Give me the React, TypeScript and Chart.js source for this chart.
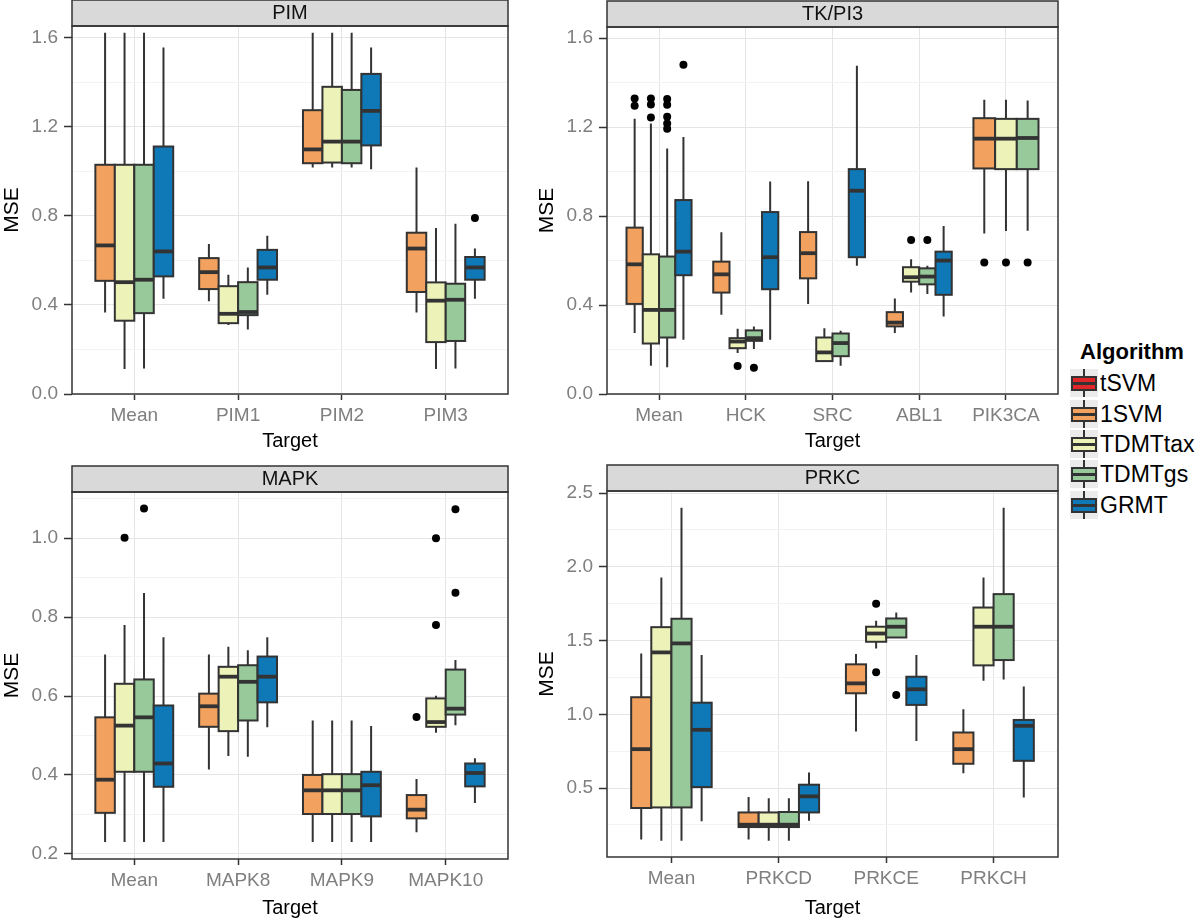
import React, { useEffect, useRef } from "react";
import { Chart, registerables } from "chart.js";

Chart.register(...registerables);

const FONT = '"Liberation Sans", Arial, Helvetica, sans-serif';

const ALGORITHMS = ["tSVM", "1SVM", "TDMTtax", "TDMTgs", "GRMT"];
const COLORS = ["#E0262B", "#F2A25E", "#EDF2B9", "#97C99A", "#0F78B7"];

// Box statistics per target: [lower whisker, Q1, median, Q3, upper whisker]; null = no box
// ---------- PIM ----------
const PIM_TARGETS = ["Mean", "PIM1", "PIM2", "PIM3"];
const PIM_TSVM = [null, null, null, null];
const PIM_1SVM = [[0.366, 0.508, 0.667, 1.029, 1.622], [0.416, 0.471, 0.547, 0.61, 0.673], [1.017, 1.036, 1.098, 1.274, 1.622], [0.366, 0.458, 0.653, 0.724, 1.017]];
const PIM_TDMTTAX = [[0.112, 0.329, 0.502, 1.029, 1.622], [0.31, 0.318, 0.36, 0.484, 0.535], [1.017, 1.039, 1.133, 1.379, 1.622], [0.112, 0.233, 0.419, 0.501, 0.745]];
const PIM_TDMTGS = [[0.115, 0.363, 0.513, 1.029, 1.622], [0.289, 0.354, 0.368, 0.502, 0.568], [1.017, 1.036, 1.133, 1.365, 1.622], [0.115, 0.238, 0.423, 0.495, 0.764]];
const PIM_GRMT = [[0.428, 0.528, 0.64, 1.111, 1.555], [0.446, 0.513, 0.568, 0.647, 0.71], [1.009, 1.116, 1.271, 1.437, 1.555], [0.428, 0.513, 0.568, 0.615, 0.653]];
const PIM_OUT_TSVM = [[], [], [], []];
const PIM_OUT_1SVM = [[], [], [], []];
const PIM_OUT_TDMTTAX = [[], [], [], []];
const PIM_OUT_TDMTGS = [[], [], [], []];
const PIM_OUT_GRMT = [[], [], [], [0.79]];
const PIM_Y_MAJOR = [0, 0.4, 0.8, 1.2, 1.6];
const PIM_Y_MINOR = [0.2, 0.6, 1.0, 1.4];

// ---------- TK/PI3 ----------
const TK_TARGETS = ["Mean", "HCK", "SRC", "ABL1", "PIK3CA"];
const TK_TSVM = [null, null, null, null, null];
const TK_1SVM = [[0.274, 0.405, 0.583, 0.748, 1.238], [0.356, 0.456, 0.538, 0.595, 0.727], [0.405, 0.52, 0.633, 0.728, 0.957], [0.274, 0.304, 0.321, 0.368, 0.429], [0.722, 1.014, 1.148, 1.24, 1.323]];
const TK_TDMTTAX = [[0.127, 0.227, 0.378, 0.628, 1.216], [0.184, 0.206, 0.236, 0.251, 0.293], [0.145, 0.148, 0.187, 0.254, 0.296], [0.456, 0.505, 0.525, 0.57, 0.606], [0.733, 1.011, 1.148, 1.237, 1.323]];
const TK_TDMTGS = [[0.12, 0.254, 0.378, 0.618, 1.104], [0.202, 0.239, 0.251, 0.286, 0.304], [0.127, 0.17, 0.229, 0.272, 0.284], [0.45, 0.493, 0.528, 0.565, 0.577], [0.734, 1.011, 1.151, 1.237, 1.32]];
const TK_GRMT = [[0.244, 0.534, 0.64, 0.872, 1.156], [0.244, 0.471, 0.615, 0.818, 0.955], [0.577, 0.615, 0.914, 1.011, 1.476], [0.348, 0.446, 0.6, 0.64, 0.755], null];
const TK_OUT_TSVM = [[], [], [], [], []];
const TK_OUT_1SVM = [[1.328, 1.296], [], [], [], [0.591]];
const TK_OUT_TDMTTAX = [[1.328, 1.302, 1.243], [0.126], [], [0.692], [0.591]];
const TK_OUT_TDMTGS = [[1.326, 1.301, 1.246, 1.216, 1.193], [0.118], [], [0.692], [0.591]];
const TK_OUT_GRMT = [[1.48], [], [], [], []];
const TK_Y_MAJOR = [0, 0.4, 0.8, 1.2, 1.6];
const TK_Y_MINOR = [0.2, 0.6, 1.0, 1.4];

// ---------- MAPK ----------
const MAPK_TARGETS = ["Mean", "MAPK8", "MAPK9", "MAPK10"];
const MAPK_TSVM = [null, null, null, null];
const MAPK_1SVM = [[0.23, 0.304, 0.388, 0.546, 0.705], [0.414, 0.522, 0.574, 0.606, 0.705], [0.23, 0.301, 0.361, 0.4, 0.538], [0.255, 0.29, 0.312, 0.349, 0.39]];
const MAPK_TDMTTAX = [[0.23, 0.408, 0.525, 0.631, 0.78], [0.448, 0.511, 0.649, 0.674, 0.725], [0.23, 0.301, 0.361, 0.402, 0.538], [0.507, 0.522, 0.534, 0.594, 0.601]];
const MAPK_TDMTGS = [[0.23, 0.408, 0.546, 0.642, 0.861], [0.446, 0.538, 0.636, 0.678, 0.716], [0.23, 0.301, 0.361, 0.402, 0.538], [0.526, 0.553, 0.568, 0.667, 0.691]];
const MAPK_GRMT = [[0.23, 0.37, 0.429, 0.576, 0.749], [0.521, 0.584, 0.649, 0.7, 0.749], [0.23, 0.295, 0.374, 0.408, 0.524], [0.329, 0.371, 0.405, 0.429, 0.442]];
const MAPK_OUT_TSVM = [[], [], [], []];
const MAPK_OUT_1SVM = [[], [], [], [0.547]];
const MAPK_OUT_TDMTTAX = [[1.001], [], [], [1.0, 0.78]];
const MAPK_OUT_TDMTGS = [[1.075], [], [], [1.073, 0.862]];
const MAPK_OUT_GRMT = [[], [], [], []];
const MAPK_Y_MAJOR = [0.2, 0.4, 0.6, 0.8, 1.0];
const MAPK_Y_MINOR = [0.3, 0.5, 0.7, 0.9, 1.1];

// ---------- PRKC ----------
const PRKC_TARGETS = ["Mean", "PRKCD", "PRKCE", "PRKCH"];
const PRKC_TSVM = [null, null, null, null];
const PRKC_1SVM = [[0.151, 0.365, 0.764, 1.116, 1.413], [0.151, 0.236, 0.252, 0.335, 0.439], [0.883, 1.143, 1.21, 1.339, 1.409], [0.601, 0.665, 0.764, 0.877, 1.034]];
const PRKC_TDMTTAX = [[0.144, 0.369, 1.42, 1.591, 1.927], [0.144, 0.236, 0.252, 0.335, 0.432], [1.447, 1.492, 1.548, 1.594, 1.634], [1.228, 1.332, 1.594, 1.724, 1.927]];
const PRKC_TDMTGS = [[0.144, 0.369, 1.481, 1.648, 2.401], [0.144, 0.236, 0.252, 0.338, 0.432], [1.521, 1.521, 1.594, 1.65, 1.69], [1.237, 1.368, 1.594, 1.815, 2.401]];
const PRKC_GRMT = [[0.275, 0.507, 0.895, 1.079, 1.402], [0.279, 0.335, 0.444, 0.523, 0.606], [0.82, 1.064, 1.17, 1.255, 1.402], [0.437, 0.685, 0.922, 0.962, 1.188]];
const PRKC_OUT_TSVM = [[], [], [], []];
const PRKC_OUT_1SVM = [[], [], [], []];
const PRKC_OUT_TDMTTAX = [[], [], [1.749, 1.285], []];
const PRKC_OUT_TDMTGS = [[], [], [1.131], []];
const PRKC_OUT_GRMT = [[], [], [], []];
const PRKC_Y_MAJOR = [0.5, 1.0, 1.5, 2.0, 2.5];
const PRKC_Y_MINOR = [0.25, 0.75, 1.25, 1.75, 2.25];

type Stats = (number[] | null)[];

interface PanelSpec {
  title: string;
  targets: string[];
  stats: Stats[];
  outliers: number[][][];
  yMajor: number[];
  yMinor: number[];
  yMin: number;
  yMax: number;
  left: number;
  top: number;
  w: number;
  h: number;
  padTop: number;
  padRight: number;
  xH: number;
  xTitlePad: number;
}

const PANELS: PanelSpec[] = [
  {
    title: "PIM", targets: PIM_TARGETS,
    stats: [PIM_TSVM, PIM_1SVM, PIM_TDMTTAX, PIM_TDMTGS, PIM_GRMT],
    outliers: [PIM_OUT_TSVM, PIM_OUT_1SVM, PIM_OUT_TDMTTAX, PIM_OUT_TDMTGS, PIM_OUT_GRMT],
    yMajor: PIM_Y_MAJOR, yMinor: PIM_Y_MINOR, yMin: 0, yMax: 1.652,
    left: 0, top: 0, w: 530, h: 460, padTop: 0, padRight: 22, xH: 66, xTitlePad: 7,
  },
  {
    title: "TK/PI3", targets: TK_TARGETS,
    stats: [TK_TSVM, TK_1SVM, TK_TDMTTAX, TK_TDMTGS, TK_GRMT],
    outliers: [TK_OUT_TSVM, TK_OUT_1SVM, TK_OUT_TDMTTAX, TK_OUT_TDMTGS, TK_OUT_GRMT],
    yMajor: TK_Y_MAJOR, yMinor: TK_Y_MINOR, yMin: 0, yMax: 1.65,
    left: 535, top: 0, w: 535, h: 460, padTop: 1, padRight: 12, xH: 66, xTitlePad: 7,
  },
  {
    title: "MAPK", targets: MAPK_TARGETS,
    stats: [MAPK_TSVM, MAPK_1SVM, MAPK_TDMTTAX, MAPK_TDMTGS, MAPK_GRMT],
    outliers: [MAPK_OUT_TSVM, MAPK_OUT_1SVM, MAPK_OUT_TDMTTAX, MAPK_OUT_TDMTGS, MAPK_OUT_GRMT],
    yMajor: MAPK_Y_MAJOR, yMinor: MAPK_Y_MINOR, yMin: 0.187, yMax: 1.117,
    left: 0, top: 460, w: 530, h: 461, padTop: 6, padRight: 22, xH: 62, xTitlePad: 1,
  },
  {
    title: "PRKC", targets: PRKC_TARGETS,
    stats: [PRKC_TSVM, PRKC_1SVM, PRKC_TDMTTAX, PRKC_TDMTGS, PRKC_GRMT],
    outliers: [PRKC_OUT_TSVM, PRKC_OUT_1SVM, PRKC_OUT_TDMTTAX, PRKC_OUT_TDMTGS, PRKC_OUT_GRMT],
    yMajor: PRKC_Y_MAJOR, yMinor: PRKC_Y_MINOR, yMin: 0.033, yMax: 2.514,
    left: 535, top: 460, w: 535, h: 461, padTop: 5, padRight: 12, xH: 64, xTitlePad: 1,
  },
];

const DODGE = 0.75;

function dodge(stats: Stats[], i: number, a: number) {
  const present: number[] = [];
  stats.forEach((s, k) => { if (s[i]) present.push(k); });
  const n = Math.max(present.length, 1);
  const j = present.indexOf(a);
  const w = DODGE / n;
  return { xc: i + (j - (n - 1) / 2) * w, w };
}

function isMajor(list: number[], v: number) {
  return list.some((m) => Math.abs(m - v) < 1e-6);
}

function Panel({ spec }: { spec: PanelSpec }) {
  const ref = useRef<HTMLCanvasElement>(null);
  useEffect(() => {
    const n = spec.targets.length;
    const datasets = ALGORITHMS.map((name, a) => ({
      label: name,
      data: spec.outliers[a].flatMap((vals, i) =>
        vals.map((v) => ({ x: dodge(spec.stats, i, a).xc, y: v }))
      ),
      pointRadius: 4,
      pointBackgroundColor: "#000000",
      pointBorderWidth: 0,
      showLine: false,
    }));

    const boxPlugin = {
      id: "boxes",
      beforeDraw(chart: any) {
        const { ctx, chartArea } = chart;
        const t = chart.titleBlock;
        ctx.save();
        ctx.fillStyle = "#D9D9D9";
        ctx.fillRect(chartArea.left, t.top, chartArea.right - chartArea.left, chartArea.top - t.top);
        ctx.restore();
      },
      beforeDatasetsDraw(chart: any) {
        const { ctx } = chart;
        const xs = chart.scales.x;
        const ys = chart.scales.y;
        ctx.save();
        for (let i = 0; i < n; i++) {
          spec.stats.forEach((s, a) => {
            const st = s[i];
            if (!st) return;
            const { xc, w } = dodge(spec.stats, i, a);
            const px = xs.getPixelForValue(xc);
            const x0 = xs.getPixelForValue(xc - w / 2);
            const x1 = xs.getPixelForValue(xc + w / 2);
            const [lo, q1, med, q3, hi] = st.map((v) => ys.getPixelForValue(v));
            ctx.strokeStyle = "#333333";
            ctx.lineWidth = 2;
            ctx.beginPath();
            ctx.moveTo(px, hi);
            ctx.lineTo(px, q3);
            ctx.moveTo(px, q1);
            ctx.lineTo(px, lo);
            ctx.stroke();
            ctx.fillStyle = COLORS[a];
            ctx.fillRect(x0, q3, x1 - x0, q1 - q3);
            ctx.strokeRect(x0, q3, x1 - x0, q1 - q3);
            ctx.lineWidth = 3.8;
            ctx.beginPath();
            ctx.moveTo(x0, med);
            ctx.lineTo(x1, med);
            ctx.stroke();
          });
        }
        ctx.restore();
      },
      afterDraw(chart: any) {
        const { ctx, chartArea } = chart;
        const t = chart.titleBlock;
        ctx.save();
        ctx.strokeStyle = "#333333";
        ctx.lineWidth = 1.5;
        ctx.strokeRect(chartArea.left, chartArea.top, chartArea.right - chartArea.left, chartArea.bottom - chartArea.top);
        ctx.strokeRect(chartArea.left, t.top, chartArea.right - chartArea.left, chartArea.top - t.top);
        ctx.restore();
      },
    };

    const allY = [...spec.yMajor, ...spec.yMinor].sort((p, q) => p - q);

    const chart = new Chart(ref.current as HTMLCanvasElement, {
      type: "scatter",
      data: { datasets: datasets as any },
      plugins: [boxPlugin],
      options: {
        responsive: false,
        animation: false,
        events: [],
        layout: { padding: { top: spec.padTop, right: spec.padRight, left: 0, bottom: 0 } },
        plugins: {
          legend: { display: false },
          tooltip: { enabled: false },
          title: {
            display: true,
            text: spec.title,
            fullSize: false,
            color: "#111111",
            font: { family: FONT, size: 20, weight: "normal" },
            padding: { top: 1, bottom: 1 },
          },
        },
        scales: {
          x: {
            type: "linear",
            min: -0.6,
            max: n - 1 + 0.6,
            afterBuildTicks: (s: any) => {
              s.ticks = spec.targets.map((_, i) => ({ value: i }));
            },
            afterFit: (s: any) => {
              s.height = spec.xH;
            },
            ticks: {
              callback: (v: any) => spec.targets[Math.round(Number(v))] ?? "",
              color: "#7F7F7F",
              font: { family: FONT, size: 19 },
              padding: 4,
              autoSkip: false,
              maxRotation: 0,
            },
            grid: { color: "#E5E5E5", lineWidth: 1, tickColor: "#333333", tickLength: 6, tickWidth: 1.5 },
            border: { display: false },
            title: {
              display: true,
              text: "Target",
              color: "#000000",
              font: { family: FONT, size: 20 },
              padding: { top: 0, bottom: spec.xTitlePad },
            },
          },
          y: {
            type: "linear",
            min: spec.yMin,
            max: spec.yMax,
            afterBuildTicks: (s: any) => {
              s.ticks = allY.map((v) => ({ value: v }));
            },
            afterFit: (s: any) => {
              s.width = 72;
            },
            ticks: {
              callback: (v: any) => (isMajor(spec.yMajor, Number(v)) ? Number(v).toFixed(1) : ""),
              color: "#7F7F7F",
              font: { family: FONT, size: 19 },
              padding: 6,
              autoSkip: false,
            },
            grid: {
              color: (c: any) => (c.tick && isMajor(spec.yMajor, c.tick.value) ? "#E5E5E5" : "#F3F3F3"),
              lineWidth: 1,
              tickColor: (c: any) => (c.tick && isMajor(spec.yMajor, c.tick.value) ? "#333333" : "rgba(0,0,0,0)"),
              tickLength: 8,
              tickWidth: 1.5,
            },
            border: { display: false },
            title: {
              display: true,
              text: "MSE",
              color: "#000000",
              font: { family: FONT, size: 21 },
              padding: { top: 0, bottom: 0 },
            },
          },
        },
      } as any,
    });
    return () => chart.destroy();
  }, [spec]);

  return (
    <canvas
      ref={ref}
      width={spec.w}
      height={spec.h}
      style={{ position: "absolute", left: spec.left, top: spec.top, width: spec.w, height: spec.h }}
    />
  );
}

function LegendKey({ color, top }: { color: string; top: number }) {
  return (
    <div style={{ position: "absolute", left: 1070, top, width: 28, height: 28, background: "#EBEBEB" }}>
      <div style={{ position: "absolute", left: 13, top: 0, width: 2, height: 28, background: "#333333" }} />
      <div
        style={{
          position: "absolute", left: 1, top: 7, width: 26, height: 15, boxSizing: "border-box",
          background: color, border: "2px solid #333333",
        }}
      />
      <div style={{ position: "absolute", left: 1, top: 13, width: 26, height: 3, background: "#333333" }} />
    </div>
  );
}

export default function App() {
  const rowTops = [369, 399.5, 430, 460, 490.5];
  return (
    <div style={{ position: "absolute", left: 0, top: 0, width: 1200, height: 921, background: "#FFFFFF", fontFamily: FONT }}>
      {PANELS.map((p) => (
        <Panel key={p.title} spec={p} />
      ))}
      <div style={{ position: "absolute", left: 1080, top: 339, fontSize: 22, lineHeight: "26px", fontWeight: "bold", color: "#000" }}>
        Algorithm
      </div>
      {ALGORITHMS.map((a, i) => (
        <React.Fragment key={a}>
          <LegendKey color={COLORS[i]} top={rowTops[i]} />
          <div style={{ position: "absolute", left: 1100, top: rowTops[i], height: 28, lineHeight: "28px", fontSize: 23, color: "#000" }}>
            {a}
          </div>
        </React.Fragment>
      ))}
    </div>
  );
}
